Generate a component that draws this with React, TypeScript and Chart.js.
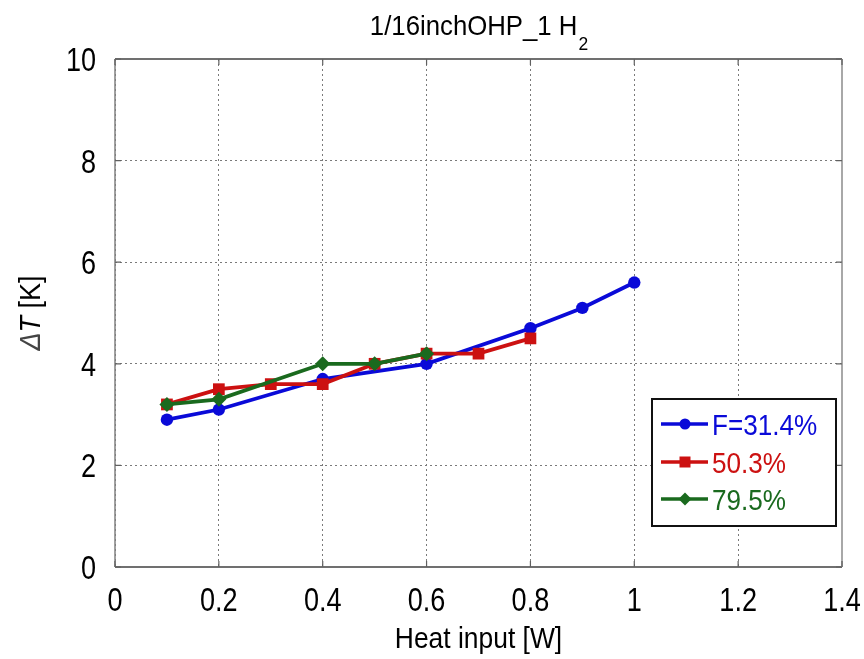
import React, { useEffect, useRef } from "react";
import { Chart, registerables } from "chart.js";

Chart.register(...registerables);

const titleMain = "1/16inchOHP_1 H";
const titleSub = "2";
const xAxisTitle = "Heat input [W]";
const yAxisTitle = ["Δ", "T", " [K]"];

const xTicks = [0, 0.2, 0.4, 0.6, 0.8, 1, 1.2, 1.4];
const yTicks = [0, 2, 4, 6, 8, 10];

const seriesNames = ["F=31.4%", "50.3%", "79.5%"];
const seriesColors = ["#0a0ad8", "#cc1111", "#1a6a1e"];
const seriesMarkers = ["circle", "rect", "rectRot"];
const seriesRadius = [6.2, 8.3, 7.5];

const xBlue = [0.1, 0.2, 0.4, 0.6, 0.8, 0.9, 1.0];
const yBlue = [2.9, 3.1, 3.7, 4.0, 4.7, 5.1, 5.6];
const xRed = [0.1, 0.2, 0.3, 0.4, 0.5, 0.6, 0.7, 0.8];
const yRed = [3.2, 3.5, 3.6, 3.6, 4.0, 4.2, 4.2, 4.5];
const xGreen = [0.1, 0.2, 0.4, 0.5, 0.6];
const yGreen = [3.2, 3.3, 4.0, 4.0, 4.2];

const FONT = '"Liberation Sans", Arial, sans-serif';

const toPts = (xs: number[], ys: number[]) => xs.map((x, i) => ({ x, y: ys[i] }));

const fmt = (v: number) => String(Number(v.toFixed(1)));

// draws text horizontally compressed by sx; align: left/center/right
function drawText(ctx: any, text: string, x: number, y: number, font: string, sx: number, align: string) {
  ctx.save();
  ctx.font = font;
  const w = ctx.measureText(text).width * sx;
  let left = x;
  if (align === "center") left = x - w / 2;
  else if (align === "right") left = x - w;
  ctx.translate(left, y);
  ctx.scale(sx, 1);
  ctx.textAlign = "left";
  ctx.textBaseline = "alphabetic";
  ctx.fillText(text, 0, 0);
  ctx.restore();
  return w;
}

function measure(ctx: any, text: string, font: string, sx: number) {
  ctx.save();
  ctx.font = font;
  const w = ctx.measureText(text).width * sx;
  ctx.restore();
  return w;
}

const decorPlugin = {
  id: "decor",
  beforeDatasetsDraw(chart: any) {
    const { ctx, chartArea: a, scales } = chart;
    const xs = scales.x;
    const ys = scales.y;
    ctx.save();
    // frame
    ctx.setLineDash([]);
    ctx.lineWidth = 2;
    ctx.strokeStyle = "#707070";
    ctx.beginPath();
    ctx.moveTo(a.left, a.top);
    ctx.lineTo(a.right, a.top);
    ctx.moveTo(a.left, a.bottom);
    ctx.lineTo(a.right, a.bottom);
    ctx.stroke();
    ctx.strokeStyle = "#a8a8a8";
    ctx.beginPath();
    ctx.moveTo(a.right, a.top);
    ctx.lineTo(a.right, a.bottom);
    ctx.stroke();
    ctx.strokeStyle = "#808080";
    ctx.lineWidth = 1.5;
    ctx.beginPath();
    ctx.moveTo(a.left, a.top);
    ctx.lineTo(a.left, a.bottom);
    ctx.stroke();
    // inner ticks
    ctx.strokeStyle = "#606060";
    ctx.lineWidth = 1.2;
    ctx.beginPath();
    for (const t of xTicks) {
      const px = xs.getPixelForValue(t);
      ctx.moveTo(px, a.bottom);
      ctx.lineTo(px, a.bottom - 6);
      ctx.moveTo(px, a.top);
      ctx.lineTo(px, a.top + 6);
    }
    for (const t of yTicks) {
      const py = ys.getPixelForValue(t);
      ctx.moveTo(a.left, py);
      ctx.lineTo(a.left + 6, py);
      ctx.moveTo(a.right, py);
      ctx.lineTo(a.right - 6, py);
    }
    ctx.stroke();

    // tick labels
    ctx.fillStyle = "#000";
    const tickFont = `33px ${FONT}`;
    for (const t of xTicks) {
      drawText(ctx, fmt(t), xs.getPixelForValue(t), 611, tickFont, 0.82, "center");
    }
    for (const t of yTicks) {
      drawText(ctx, fmt(t), 96, ys.getPixelForValue(t) + 12, tickFont, 0.82, "right");
    }

    // title
    const cx = (a.left + a.right) / 2;
    const tFont = `28px ${FONT}`;
    const sFont = `19px ${FONT}`;
    const w1 = measure(ctx, titleMain, tFont, 0.92);
    const w2 = measure(ctx, titleSub, sFont, 0.92);
    const sx = cx - (w1 + w2) / 2;
    drawText(ctx, titleMain, sx, 35, tFont, 0.92, "left");
    drawText(ctx, titleSub, sx + w1 + 1, 50, sFont, 0.92, "left");

    // x axis title
    drawText(ctx, xAxisTitle, cx, 648, `30px ${FONT}`, 0.88, "center");

    // y axis title (rotated)
    ctx.save();
    ctx.translate(40, (a.top + a.bottom) / 2);
    ctx.rotate(-Math.PI / 2);
    const fonts = [`italic 30px ${FONT}`, `italic 30px ${FONT}`, `30px ${FONT}`];
    const ws = yAxisTitle.map((s, i) => measure(ctx, s, fonts[i], 0.9));
    const total = ws.reduce((p, c) => p + c, 0);
    let px = -total / 2;
    yAxisTitle.forEach((s, i) => {
      ctx.fillStyle = i === 0 ? "#444" : "#000";
      drawText(ctx, s, px, 0, fonts[i], 0.9, "left");
      px += ws[i];
    });
    ctx.restore();
    ctx.restore();
  },
  afterDatasetsDraw(chart: any) {
    const { ctx } = chart;
    ctx.save();
    const bx = 652, by = 399, bw = 184, bh = 127;
    ctx.fillStyle = "#fff";
    ctx.fillRect(bx, by, bw, bh);
    ctx.strokeStyle = "#111";
    ctx.lineWidth = 2;
    ctx.setLineDash([]);
    ctx.strokeRect(bx, by, bw, bh);
    const rows = [424, 462, 499];
    seriesNames.forEach((name, i) => {
      const y = rows[i];
      ctx.strokeStyle = seriesColors[i];
      ctx.fillStyle = seriesColors[i];
      ctx.lineWidth = 3.5;
      ctx.beginPath();
      ctx.moveTo(661, y);
      ctx.lineTo(708, y);
      ctx.stroke();
      ctx.beginPath();
      const mx = 685;
      if (seriesMarkers[i] === "circle") {
        ctx.arc(mx, y, 5.5, 0, Math.PI * 2);
      } else if (seriesMarkers[i] === "rect") {
        ctx.rect(mx - 5.5, y - 5.5, 11, 11);
      } else {
        ctx.moveTo(mx, y - 6.5);
        ctx.lineTo(mx + 6.5, y);
        ctx.lineTo(mx, y + 6.5);
        ctx.lineTo(mx - 6.5, y);
        ctx.closePath();
      }
      ctx.fill();
      drawText(ctx, name, 712, y + 11, `29px ${FONT}`, 0.9, "left");
    });
    ctx.restore();
  },
};

export default function App() {
  const ref = useRef<HTMLCanvasElement>(null);
  useEffect(() => {
    document.body.style.margin = "0";
    const canvas = ref.current!;
    const allX = [xBlue, xRed, xGreen];
    const allY = [yBlue, yRed, yGreen];
    const chart = new Chart(canvas, {
      type: "line",
      data: {
        datasets: seriesNames.map((name, i) => ({
          label: name,
          data: toPts(allX[i], allY[i]),
          borderColor: seriesColors[i],
          backgroundColor: seriesColors[i],
          borderWidth: 3.8,
          pointStyle: seriesMarkers[i] as any,
          pointRadius: seriesRadius[i],
          pointBorderWidth: 0,
          pointBackgroundColor: seriesColors[i],
          tension: 0,
          fill: false,
          order: 3 - i,
        })),
      },
      options: {
        animation: false,
        responsive: false,
        events: [],
        layout: { padding: { left: 115, right: 22, top: 59, bottom: 92 } },
        plugins: { legend: { display: false }, tooltip: { enabled: false }, title: { display: false } },
        scales: {
          x: {
            type: "linear",
            min: 0,
            max: 1.4,
            afterBuildTicks: (s: any) => {
              s.ticks = xTicks.map((v) => ({ value: v }));
            },
            ticks: { display: false },
            grid: { color: "#7a7a7a", lineWidth: 1, drawTicks: false },
            border: { display: false, dash: [2, 3] },
          },
          y: {
            type: "linear",
            min: 0,
            max: 10,
            afterBuildTicks: (s: any) => {
              s.ticks = yTicks.map((v) => ({ value: v }));
            },
            ticks: { display: false },
            grid: { color: "#7a7a7a", lineWidth: 1, drawTicks: false },
            border: { display: false, dash: [2, 3] },
          },
        },
      },
      plugins: [decorPlugin],
    });
    return () => chart.destroy();
  }, []);
  return <canvas ref={ref} width={864} height={659} style={{ display: "block" }} />;
}
